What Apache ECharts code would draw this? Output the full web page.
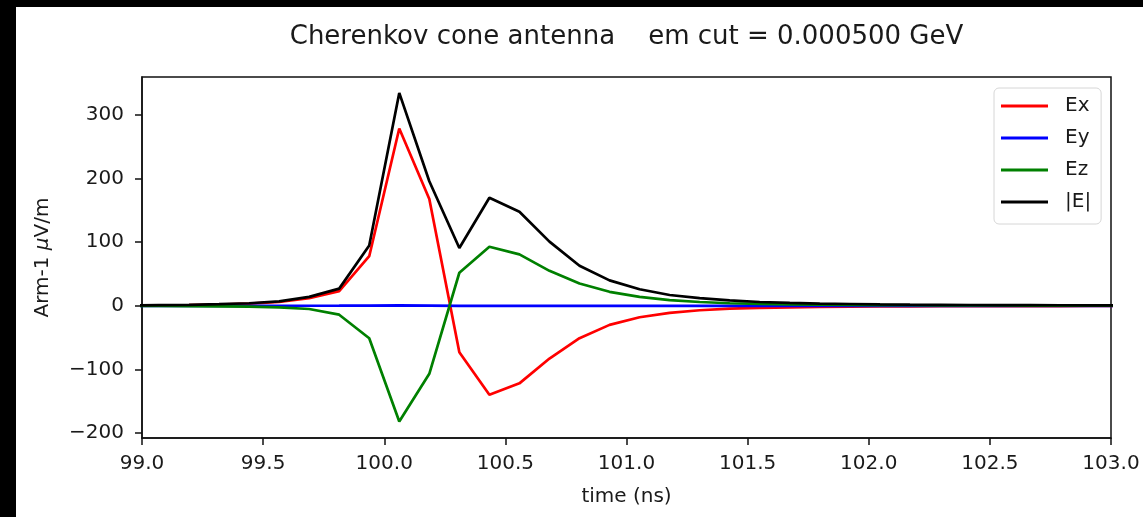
<!DOCTYPE html>
<html>
<head>
<meta charset="utf-8">
<script src="https://cdn.jsdelivr.net/npm/echarts@6/dist/echarts.min.js"></script>
<style>
  html, body { margin: 0; padding: 0; background: #000; width: 1143px; height: 517px; overflow: hidden; }
  #chart { position: absolute; left: 16px; top: 7px; width: 1127px; height: 510px; background: #fff; }
</style>
</head>
<body>
<div id="chart"></div>
<script>
// Sample times (ns)
const timeNs = [98.946, 99.070, 99.194, 99.318, 99.442, 99.566, 99.690, 99.814, 99.938, 100.062,
  100.186, 100.310, 100.434, 100.558, 100.682, 100.806, 100.930, 101.054, 101.178, 101.302,
  101.426, 101.550, 101.674, 101.798, 101.922, 102.046, 102.170, 102.294, 102.418, 102.542,
  102.666, 102.790, 102.914, 103.038];

// Field components (µV/m)
const ex = [0.4, 0.8, 1.2, 2.0, 3.5, 6.0, 12, 23, 78, 279,
  168, -73, -140, -122, -83, -51, -30, -18, -11, -7,
  -4.5, -3.2, -2.4, -1.8, -1.4, -1.1, -0.9, -0.7, -0.6, -0.5,
  -0.4, -0.4, -0.3, -0.3];
const ey = [0, 0, 0, 0, 0, 0, 0.1, 0.2, 0.4, 0.6,
  0.3, -0.1, -0.2, -0.1, 0, 0, 0, 0, 0, 0,
  0, 0, 0, 0, 0, 0, 0, 0, 0, 0,
  0, 0, 0, 0];
const ez = [-0.2, -0.3, -0.5, -0.8, -1.3, -2.5, -5, -14, -51, -182,
  -107, 52, 93, 81, 55, 35, 22, 14, 9, 6,
  4, 3, 2.3, 1.8, 1.4, 1.1, 0.9, 0.7, 0.6, 0.5,
  0.4, 0.4, 0.3, 0.3];
const eAbs = [0.5, 1.0, 1.5, 2.5, 4.0, 7.0, 14, 27, 95, 335,
  196, 91, 170, 148, 101, 63, 40, 26, 17, 12,
  8.5, 6.0, 4.5, 3.5, 2.8, 2.2, 1.8, 1.5, 1.3, 1.1,
  1.0, 0.9, 0.8, 0.7];

const seriesNames = ['Ex', 'Ey', 'Ez', '|E|'];
const seriesColors = ['#ff0000', '#0000ff', '#008000', '#000000'];
const xTicks = [99.0, 99.5, 100.0, 100.5, 101.0, 101.5, 102.0, 102.5, 103.0];
const yTicks = [-200, -100, 0, 100, 200, 300];

const FONT = 'DejaVu Sans';
const seriesValues = [ex, ey, ez, eAbs];

const chart = echarts.init(document.getElementById('chart'), null, { renderer: 'canvas' });

chart.setOption({
  animation: false,
  textStyle: { fontFamily: FONT },
  title: {
    text: 'Cherenkov cone antenna    em cut = 0.000500 GeV',
    left: 610.5,
    top: 17,
    textAlign: 'center',
    padding: 0,
    textStyle: { fontFamily: FONT, fontSize: 26, fontWeight: 'normal', color: '#1a1a1a' }
  },
  legend: {
    orient: 'vertical',
    left: 978,
    top: 81,
    icon: 'rect',
    itemWidth: 47,
    itemHeight: 3,
    itemGap: 12,
    padding: [8, 10, 12, 7],
    backgroundColor: '#fff',
    borderColor: '#d6d6d6',
    borderWidth: 1,
    borderRadius: 5,
    textStyle: { fontFamily: FONT, fontSize: 20, color: '#1a1a1a', padding: [0, 0, 0, 12] },
    data: seriesNames
  },
  grid: {
    left: 126, right: 32, top: 70, bottom: 79,
    show: true, borderColor: '#111', borderWidth: 1.5, backgroundColor: 'transparent'
  },
  xAxis: {
    type: 'value',
    min: xTicks[0],
    max: xTicks[xTicks.length - 1],
    interval: 0.5,
    name: 'time (ns)',
    nameLocation: 'middle',
    nameGap: 49,
    nameTextStyle: { fontFamily: FONT, fontSize: 20, color: '#1a1a1a' },
    axisLine: { show: true, onZero: false, lineStyle: { color: '#111', width: 1.5 } },
    axisTick: { show: true, inside: false, length: 7, lineStyle: { color: '#111', width: 1.5 } },
    axisLabel: {
      margin: 16, fontFamily: FONT, fontSize: 20, color: '#1a1a1a',
      formatter: v => v.toFixed(1)
    },
    splitLine: { show: false }
  },
  yAxis: {
    type: 'value',
    min: -208,
    max: 360,
    name: 'Arm-1 {i|μ}V/m',
    nameLocation: 'middle',
    nameRotate: 90,
    nameGap: 89,
    nameTextStyle: {
      fontFamily: FONT, fontSize: 20, color: '#1a1a1a',
      rich: { i: { fontFamily: FONT, fontSize: 20, fontStyle: 'italic', color: '#1a1a1a' } }
    },
    axisLine: { show: true, onZero: false, lineStyle: { color: '#111', width: 1.5 } },
    axisTick: { show: true, inside: false, length: 7, customValues: yTicks, lineStyle: { color: '#111', width: 1.5 } },
    axisLabel: {
      margin: 18, fontFamily: FONT, fontSize: 20, color: '#1a1a1a',
      customValues: yTicks,
      formatter: v => String(v).replace('-', '\u2212')
    },
    splitLine: { show: false }
  },
  series: seriesNames.map((name, k) => ({
    name: name,
    type: 'line',
    showSymbol: false,
    symbol: 'none',
    smooth: false,
    clip: true,
    color: seriesColors[k],
    lineStyle: { color: seriesColors[k], width: 2.7 },
    data: timeNs.map((t, i) => [t, seriesValues[k][i]])
  }))
});
</script>
</body>
</html>
